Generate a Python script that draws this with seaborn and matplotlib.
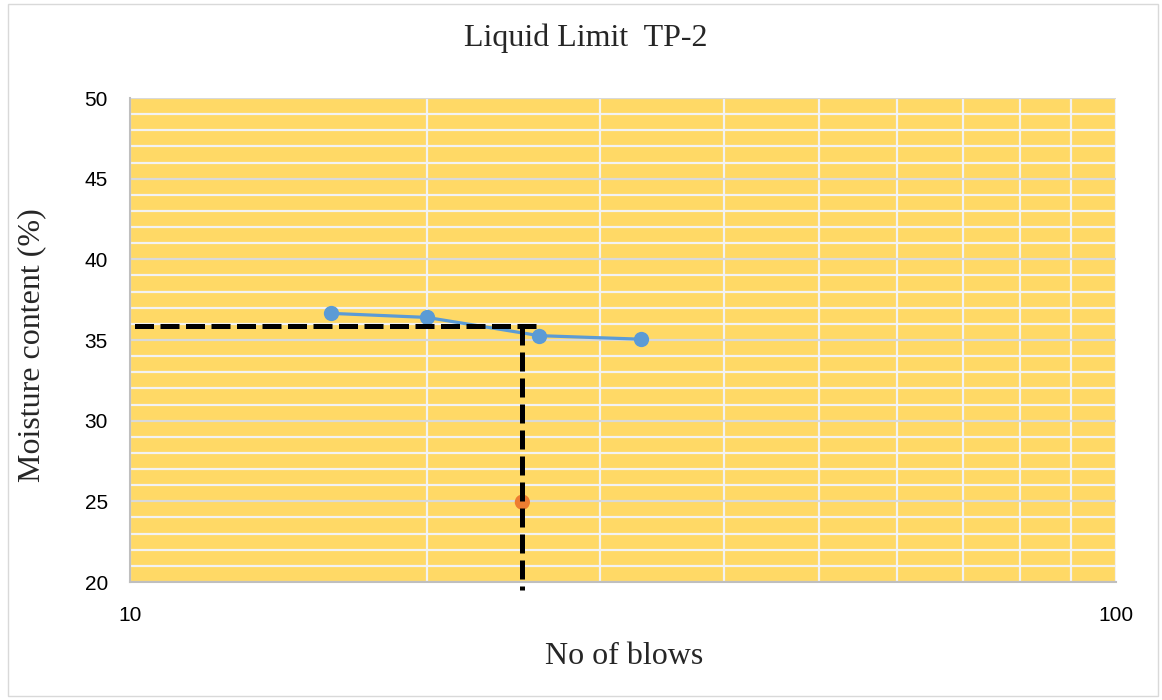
import matplotlib
matplotlib.use("Agg")
import matplotlib.pyplot as plt
import seaborn as sns
import pandas as pd
from matplotlib.ticker import FixedLocator, NullFormatter, MultipleLocator

blows = [16, 20, 26, 33]
moisture = [36.65, 36.4, 35.27, 35.05]
ll_blows = [25]
ll_moisture = [24.95]
ll_value = 35.87
x_ticks = [10, 100]
y_ticks = [20, 25, 30, 35, 40, 45, 50]

sns.set_theme(style="white")
plt.rcParams['font.family'] = ['Liberation Sans', 'DejaVu Sans']

fig = plt.figure(figsize=(11.62, 7), dpi=100)
ax = fig.add_axes([130/1162, 1-582/700, (1116-130)/1162, (582-98)/700])
ax.set_facecolor("#FFD966")

df = pd.DataFrame({"blows": blows, "moisture": moisture})
sns.lineplot(data=df, x="blows", y="moisture", ax=ax, color="#5B9BD5", lw=2.3,
             marker="o", markersize=11, markeredgewidth=0, zorder=4)
df2 = pd.DataFrame({"blows": ll_blows, "moisture": ll_moisture})
sns.scatterplot(data=df2, x="blows", y="moisture", ax=ax, color="#ED7D31", s=120,
                edgecolor="none", zorder=4)

ax.set_xscale("log")
ax.set_xlim(10, 100)
ax.set_ylim(20, 50)

# dashed guide lines (drawn outward from the corner)
ax.plot([25.8, 10], [ll_value, ll_value], color="black", lw=3.6, ls=(0, (3.8, 1.3)), zorder=5,
        clip_on=False)
ax.plot([25, 25], [ll_value, 19.5], color="black", lw=3.6, ls=(0, (3.8, 1.4)), zorder=5,
        clip_on=False)

ax.xaxis.set_major_locator(FixedLocator(x_ticks))
ax.xaxis.set_minor_locator(FixedLocator([20, 30, 40, 50, 60, 70, 80, 90]))
ax.xaxis.set_minor_formatter(NullFormatter())
ax.set_xticks(x_ticks)
ax.set_xticklabels([str(t) for t in x_ticks])
ax.set_yticks(y_ticks)
ax.yaxis.set_minor_locator(MultipleLocator(1))

ax.grid(which="major", axis="y", color="#D9D9D9", lw=1.6)
ax.grid(which="minor", axis="y", color="#F2F2F2", lw=1.6)
ax.grid(which="minor", axis="x", color="#F2F2F2", lw=1.6)
ax.grid(which="major", axis="x", color="#F2F2F2", lw=1.6)
ax.set_axisbelow(True)

for s in ["top", "right"]:
    ax.spines[s].set_visible(False)
ax.spines["left"].set_color("#BFBFBF")
ax.spines["bottom"].set_color("#BFBFBF")
ax.spines["left"].set_linewidth(1.5)
ax.spines["bottom"].set_linewidth(1.5)

ax.tick_params(axis="both", which="both", length=0, labelsize=15, colors="black")
ax.tick_params(axis="y", pad=16)
ax.tick_params(axis="x", pad=17)

ax.set_xlabel("No of blows", family=["Liberation Serif"], fontsize=23, va="center")
ax.set_ylabel("Moisture content (%)", family=["Liberation Serif"], fontsize=23, va="center")
ax.xaxis.set_label_coords(0.501, -0.153)
ax.yaxis.set_label_coords(-0.0994, 0.49)
fig.text(0.504, 1-38/700, "Liquid Limit  TP-2", family=["Liberation Serif"], fontsize=23,
         ha="center", va="center")

# figure border
fig.patches.append(plt.Rectangle((8/1162, 4/700), 1150/1162, 692/700, transform=fig.transFigure,
                                 fill=False, edgecolor="#D9D9D9", lw=1))

fig.savefig("out.png", dpi=100)
